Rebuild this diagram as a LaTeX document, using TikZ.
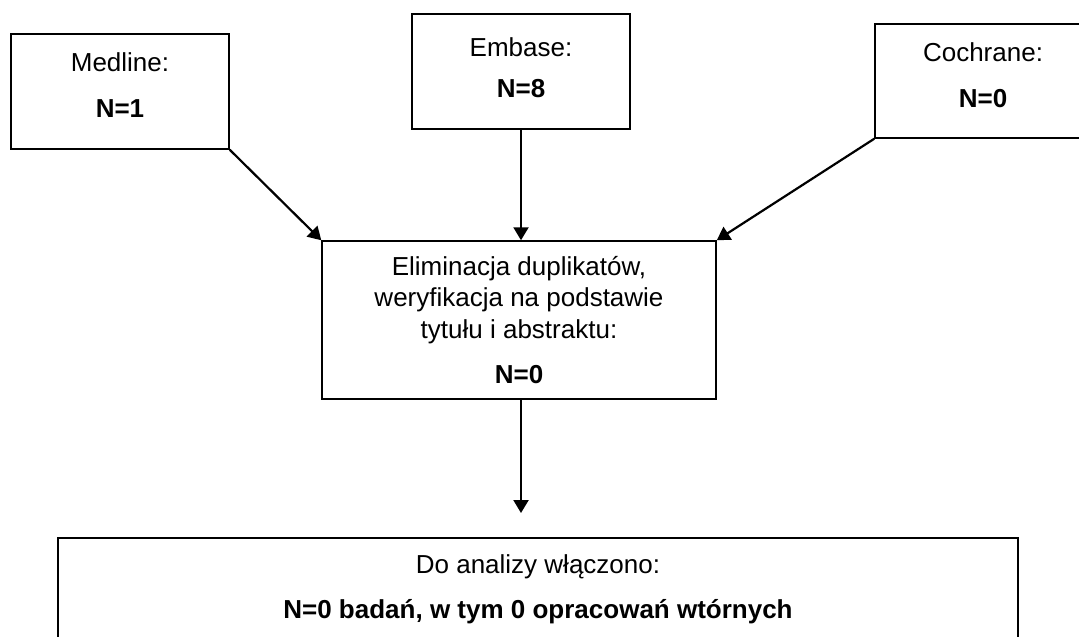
\documentclass[tikz,border=0pt]{standalone}
\usepackage{fontspec}
\setmainfont{Liberation Sans}
\usepackage{tikz}
\usetikzlibrary{arrows.meta, positioning}
\tikzset{
    srcbox/.style={
        draw, line width=0.75pt, align=center, minimum width=109pt, minimum height=57.5pt,
        inner sep=0pt, text depth=6pt, font=\fontsize{13}{15.75}\selectfont
    },
    stepbox/.style={
        draw, line width=0.75pt, align=center, inner sep=0pt,
        font=\fontsize{13}{15.75}\selectfont
    },
    ptr/.style={
        -{Triangle[length=6.5pt, width=7.5pt]}, line width=1.1pt
    }
}

\begin{document}
\begin{tikzpicture}[x={(0.5pt,0)}, y={(0,-0.5pt)}]
    \useasboundingbox (0,0) rectangle (1079,636);

    % --- Bazy danych ---
    \node[srcbox] (medline) at (120,91.5) {Medline:\\[7.25pt]\textbf{N=1}};
    \node[srcbox, text depth=3.5pt] (embase) at (521,71.5) {Embase:\\[4.75pt]\textbf{N=8}};
    \node[srcbox, minimum width=108pt, minimum height=57pt] (cochrane) at (983,81) {Cochrane:\\[7.25pt]\textbf{N=0}};

    % --- Selekcja ---
    \node[stepbox, minimum width=197pt, minimum height=79pt] (selekcja) at (519,320)
        {Eliminacja duplikatów,\\weryfikacja na podstawie\\tytułu i abstraktu:\\[6.75pt]\textbf{N=0}};

    % --- Wynik ---
    \node[stepbox, line width=1pt, minimum width=480pt, minimum height=51pt] (wynik) at (538,589)
        {Do analizy włączono:\\[6.75pt]\textbf{N=0 badań, w tym 0 opracowań wtórnych}};
    \coordinate (wynikwej) at (521,513);

    % Strzałki
    \draw[ptr] (medline.south east) -- (selekcja.north west);
    \draw[ptr] (embase.south) -- (embase.south |- selekcja.north);
    \draw[ptr] (cochrane.south west) -- (selekcja.north east);
    \draw[ptr] (embase.south |- selekcja.south) -- (wynikwej);
\end{tikzpicture}
\end{document}
